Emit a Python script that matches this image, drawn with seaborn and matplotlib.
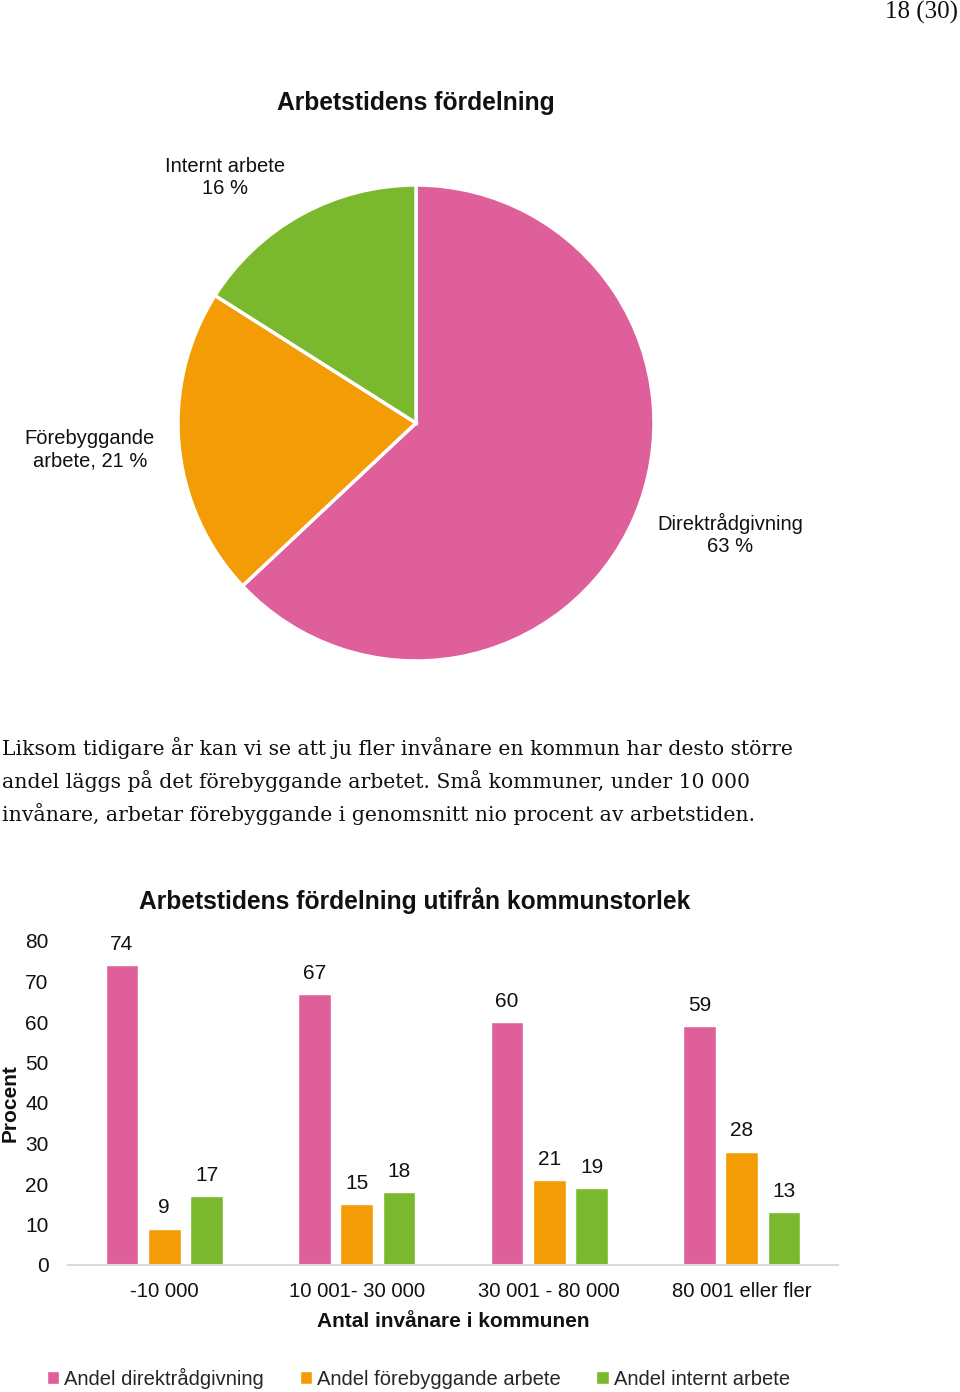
import matplotlib
matplotlib.use("Agg")
import matplotlib.pyplot as plt
import seaborn as sns
import pandas as pd

# ---- data ----
pie_names = ["Direktrådgivning", "Förebyggande arbete", "Internt arbete"]
pie_values = [63, 21, 16]
pie_label_text = ["Direktrådgivning\n63 %", "Förebyggande\narbete, 21 %", "Internt arbete\n16 %"]

categories = ["-10 000", "10 001- 30 000", "30 001 - 80 000", "80 001 eller fler"]
series_names = ["Andel direktrådgivning", "Andel förebyggande arbete", "Andel internt arbete"]
direkt = [74, 67, 60, 59]
forebygg = [9, 15, 21, 28]
internt = [17, 18, 19, 13]
y_ticks = [0, 10, 20, 30, 40, 50, 60, 70, 80]

colors = ["#DE5F99", "#F39C05", "#7AB92D"]

body_text = ("Liksom tidigare år kan vi se att ju fler invånare en kommun har desto större\n"
             "andel läggs på det förebyggande arbetet. Små kommuner, under 10 000\n"
             "invånare, arbetar förebyggande i genomsnitt nio procent av arbetstiden.")

sns.set_theme(style="white")
plt.rcParams['font.family'] = ['Liberation Sans', 'DejaVu Sans']

W, H = 960, 1392
fig = plt.figure(figsize=(W / 100, H / 100), dpi=100)
fig.patch.set_facecolor("white")

def fx(x):
    return x / W

def fy(y):
    return 1 - y / H

# page number
fig.text(fx(958), fy(12), "18 (30)", ha="right", va="center", fontsize=18,
         family=["Liberation Serif", "DejaVu Serif"], color="#111111")

# ---- pie ----
cx, cy, r = 416, 423, 238
ax_pie = fig.add_axes([fx(cx - r), fy(cy + r), (2 * r) / W, (2 * r) / H])
ax_pie.pie(pie_values, colors=colors, startangle=90, counterclock=False,
           wedgeprops=dict(edgecolor="white", linewidth=2.5), radius=1)
ax_pie.set_xlim(-1, 1)
ax_pie.set_ylim(-1, 1)
ax_pie.set_aspect("auto")
ax_pie.axis("off")

fig.text(fx(416), fy(103), "Arbetstidens fördelning", ha="center", va="center",
         fontsize=17.7, fontweight="bold", color="#111111")
pie_label_pos = [(730, 534), (90, 450), (225, 177)]
for txt, (px, py) in zip(pie_label_text, pie_label_pos):
    fig.text(fx(px), fy(py), txt, ha="center", va="center", fontsize=14.5,
             color="#111111", linespacing=1.2)

# ---- body text ----
fig.text(fx(2), fy(781), body_text, ha="left", va="center", fontsize=14.7,
         family=["DejaVu Serif"], color="#111111", linespacing=1.62)

# ---- bar chart ----
df = pd.DataFrame({
    "Kategori": categories * 3,
    "Serie": [series_names[0]] * 4 + [series_names[1]] * 4 + [series_names[2]] * 4,
    "Procent": direkt + forebygg + internt,
})

ax = fig.add_axes([fx(68), fy(1265), 770 / W, 324 / H])
sns.barplot(data=df, x="Kategori", y="Procent", hue="Serie", order=categories,
            hue_order=series_names, palette=colors, width=0.66, gap=0.23,
            saturation=1, ax=ax, legend=True)
ax.set_ylim(0, 80)
ax.set_yticks(y_ticks)
ax.set_xlim(-0.5, len(categories) - 0.5)
for s in ["top", "right", "left"]:
    ax.spines[s].set_visible(False)
ax.spines["bottom"].set_color("#D9D9D9")
ax.spines["bottom"].set_linewidth(1.5)
ax.tick_params(axis="y", length=0, pad=14, labelsize=15, labelcolor="#111111")
ax.tick_params(axis="x", length=0, pad=12, labelsize=14.6, labelcolor="#111111")
ax.set_xlabel("Antal invånare i kommunen", fontsize=15, fontweight="bold",
              color="#111111", labelpad=8)
ax.set_ylabel("Procent", fontsize=15, fontweight="bold", color="#111111")
ax.yaxis.set_label_coords(-0.063, 0.5)
ax.grid(False)

for cont in ax.containers:
    ax.bar_label(cont, fmt="%d", padding=8, fontsize=15, color="#111111")

fig.text(fx(415), fy(901), "Arbetstidens fördelning utifrån kommunstorlek",
         ha="center", va="center", fontsize=17.7, fontweight="bold", color="#111111")

handles, labels = ax.get_legend_handles_labels()
ax.legend_.remove()
fig.legend(handles, labels, loc="center left", bbox_to_anchor=(fx(47), fy(1378)),
           ncol=3, frameon=False, fontsize=14.5, handlelength=0.6, handleheight=0.6,
           handletextpad=0.25, columnspacing=1.78, borderaxespad=0, borderpad=0)

fig.savefig("out.png", dpi=100, facecolor="white")
